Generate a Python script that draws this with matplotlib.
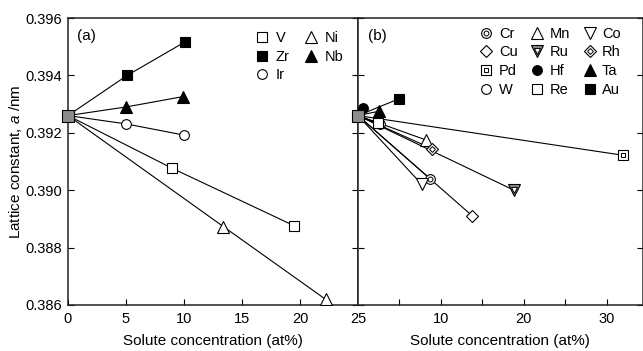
import matplotlib.pyplot as plt
from matplotlib.lines import Line2D

plt.rcParams['font.family'] = ['Liberation Sans', 'DejaVu Sans']
plt.rcParams['mathtext.fontset'] = 'custom'
plt.rcParams['mathtext.it'] = 'Liberation Sans:italic'
plt.rcParams['mathtext.rm'] = 'Liberation Sans'

# lattice constant of the pure metal (x = 0)
base = 0.3926

# panel (a)
a_names = ['V', 'Zr', 'Ir', 'Ni', 'Nb']
a_x = [[9.0, 19.5], [5.1, 10.1], [5.0, 10.0], [13.4, 22.2], [5.0, 9.9]]
a_y = [[0.39076, 0.38876], [0.3940, 0.39517], [0.39231, 0.39192],
       [0.38873, 0.3862], [0.3929, 0.39326]]

# panel (b)
b_names = ['Cr', 'Cu', 'Pd', 'W', 'Mn', 'Ru', 'Hf', 'Re', 'Co', 'Rh', 'Ta', 'Au']
b_x = [8.7, 13.8, 31.9, 2.6, 8.2, 18.8, 0.6, 2.4, 7.7, 8.9, 2.5, 4.9]
b_y = [0.3904, 0.3891, 0.39122, 0.3923, 0.39175, 0.3900, 0.39285, 0.39233,
       0.3902, 0.39145, 0.39275, 0.39318]

a_ticks = [0, 5, 10, 15, 20, 25]
b_ticks = [5, 10, 15, 20, 25, 30]
b_ticklabels = ['', '10', '', '20', '', '30']
y_ticks = [0.386, 0.388, 0.390, 0.392, 0.394, 0.396]

# marker styles: (marker, face, inner marker or None, inner face)
styles = {
    'V': ('s', 'white', None, None), 'Zr': ('s', 'black', None, None),
    'Ir': ('o', 'white', None, None), 'Ni': ('^', 'white', None, None),
    'Nb': ('^', 'black', None, None),
    'Cr': ('o', 'white', 'o', 'white'), 'Cu': ('D', 'white', None, None),
    'Pd': ('s', 'white', 's', 'white'), 'W': ('o', 'white', None, None),
    'Mn': ('^', 'white', None, None), 'Ru': ('v', '#888888', 'v', 'white'),
    'Hf': ('o', 'black', None, None), 'Re': ('s', 'white', None, None),
    'Co': ('v', 'white', None, None), 'Rh': ('D', 'white', 'D', 'white'),
    'Ta': ('^', 'black', None, None), 'Au': ('s', 'black', None, None),
}
sizes = {'s': 6.5, 'o': 7, '^': 8, 'v': 8, 'D': 6}

fig = plt.figure(figsize=(6.43, 3.51), dpi=100)
ax1 = fig.add_axes([68 / 643, 46 / 351, 290 / 643, 287 / 351])
ax2 = fig.add_axes([358 / 643, 46 / 351, 284.5 / 643, 287 / 351])


def handle(name):
    m, fc, im, ifc = styles[name]
    outer = Line2D([], [], ls='none', marker=m, ms=sizes[m], mfc=fc,
                   mec='black', mew=0.8)
    if im is None:
        return outer
    inner = Line2D([], [], ls='none', marker=im, ms=sizes[m] * 0.5, mfc=ifc,
                   mec='black', mew=0.7)
    return (outer, inner)


def draw(ax, name, xs, ys):
    m, fc, im, ifc = styles[name]
    ax.plot([0] + xs, [base] + ys, color='black', lw=0.8, zorder=2)
    ax.plot(xs, ys, ls='none', marker=m, ms=sizes[m], mfc=fc, mec='black',
            mew=0.8, zorder=3)
    if im is not None:
        ax.plot(xs, ys, ls='none', marker=im, ms=sizes[m] * 0.5, mfc=ifc,
                mec='black', mew=0.7, zorder=4)


for name, xs, ys in zip(a_names, a_x, a_y):
    draw(ax1, name, xs, ys)
for name, x, y in zip(b_names, b_x, b_y):
    draw(ax2, name, [x], [y])

for ax in (ax1, ax2):
    ax.plot([0], [base], ls='none', marker='s', ms=8, mfc='#8c8c8c',
            mec='black', mew=0.8, zorder=5, clip_on=False)
    ax.set_ylim(0.386, 0.396)
    ax.set_yticks(y_ticks)
    ax.tick_params(direction='in', length=4, width=0.8, labelsize=10.5,
                   left=True, right=True, top=False, pad=5)
    for sp in ax.spines.values():
        sp.set_linewidth(1.1)
        sp.set_color('#222222')
    ax.set_xlabel('Solute concentration (at%)', fontsize=11, labelpad=6)

ax1.set_xlim(0, 25)
ax1.set_xticks(a_ticks)
ax1.set_yticklabels([f'{t:.3f}' for t in y_ticks])
ax1.tick_params(axis='y', pad=4)
ax1.set_ylabel('Lattice constant, $\\mathit{a}$ /nm', fontsize=11, labelpad=1)

ax2.set_xlim(0, 34.3)
ax2.set_xticks(b_ticks)
ax2.set_xticklabels(b_ticklabels)
ax2.tick_params(labelleft=False)

ax1.text(0.03, 0.96, '(a)', transform=ax1.transAxes, fontsize=11, va='top')
ax2.text(0.035, 0.96, '(b)', transform=ax2.transAxes, fontsize=11, va='top')

order_a = ['V', 'Zr', 'Ir', 'Ni', 'Nb']
ax1.legend([handle(n) for n in order_a], order_a, ncol=2, frameon=False,
           loc='upper left', bbox_to_anchor=(0.615, 0.985), fontsize=10.5,
           handlelength=1.0, handletextpad=0.4, columnspacing=1.0,
           labelspacing=0.32, borderaxespad=0.2)
ax2.legend([handle(n) for n in b_names], b_names, ncol=3, frameon=False,
           loc='upper left', bbox_to_anchor=(0.395, 1.0), fontsize=10.5,
           handlelength=1.0, handletextpad=0.35, columnspacing=0.85,
           labelspacing=0.32, borderaxespad=0.2)

fig.savefig('out.png', dpi=100)
